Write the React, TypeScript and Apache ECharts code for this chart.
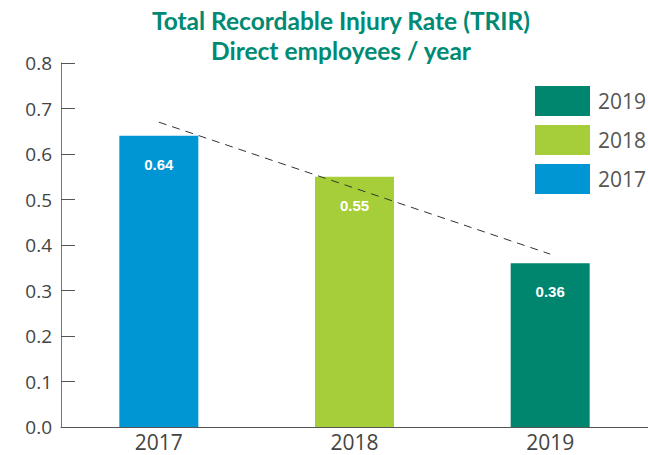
import React, { useEffect, useRef } from "react";
import * as echarts from "echarts";

const categories = ["2017", "2018", "2019"];
const values = [0.64, 0.55, 0.36];
const seriesColors = ["#0095d3", "#a6ce39", "#00866f"];
const legendOrder = ["2019", "2018", "2017"];
const trendValues = [0.67, null, 0.38];
const yTicks = { min: 0, max: 0.8, interval: 0.1 };
const titleLines = ["Total Recordable Injury Rate (TRIR)", "Direct employees / year"];

export default function App() {
  const ref = useRef<HTMLDivElement>(null);
  useEffect(() => {
    if (!ref.current) return;
    const chart = echarts.init(ref.current, null, { renderer: "svg" });
    const barSeries = categories.map((c, i) => ({
      name: c,
      type: "bar",
      stack: "total",
      barWidth: 79,
      data: categories.map((_, j) => (j === i ? values[i] : "-")),
      itemStyle: { color: seriesColors[i] },
      label: {
        show: true,
        position: "insideTop",
        distance: 21,
        color: "#ffffff",
        fontWeight: "bold",
        fontSize: 15,
        fontFamily: "Liberation Sans, Arial, sans-serif",
        formatter: (p: any) => Number(p.value).toFixed(2),
      },
    }));
    chart.setOption({
      animation: false,
      textStyle: { fontFamily: "Open Sans, sans-serif" },
      graphic: [
        {
          type: "text",
          left: 341 - 230,
          top: 5,
          style: {
            text: titleLines.join("\n"),
            width: 460,
            align: "center",
            x: 230,
            textAlign: "center",
            fontSize: 24.5,
            lineHeight: 30,
            fontWeight: "bold",
            fontFamily: "Lato, sans-serif",
            fill: "#008a74",
          },
        },
      ],
      legend: {
        orient: "vertical",
        left: 530,
        top: 81,
        itemWidth: 55,
        itemHeight: 30,
        itemGap: 9,
        icon: "rect",
        data: legendOrder,
        textStyle: { fontSize: 21, color: "#555", padding: [0, 0, 0, 3], fontFamily: "Open Sans, sans-serif" },
      },
      grid: { left: 61, top: 63, bottom: 28, width: 591 },
      xAxis: {
        type: "category",
        data: categories,
        axisLine: { lineStyle: { color: "#555", width: 1 } },
        axisTick: { inside: true, length: 12, lineStyle: { color: "#555" } },
        axisLabel: { fontSize: 21, lineHeight: 21, color: "#444", margin: 4 },
      },
      yAxis: {
        type: "value",
        min: yTicks.min,
        max: yTicks.max,
        interval: yTicks.interval,
        splitLine: { show: false },
        axisLine: { show: true, lineStyle: { color: "#777", width: 1 } },
        axisTick: { show: true, inside: true, length: 14, lineStyle: { color: "#555" } },
        axisLabel: { fontSize: 19, color: "#444", margin: 9, formatter: (v: number) => v.toFixed(1) },
      },
      series: [
        ...barSeries,
        {
          name: "trend",
          type: "line",
          data: trendValues,
          connectNulls: true,
          symbol: "none",
          z: 10,
          lineStyle: { color: "#333", width: 1, type: [8, 6] },
        },
      ],
    });
    return () => chart.dispose();
  }, []);
  return <div ref={ref} style={{ width: 648, height: 455, position: "absolute", left: 0, top: 0 }} />;
}
